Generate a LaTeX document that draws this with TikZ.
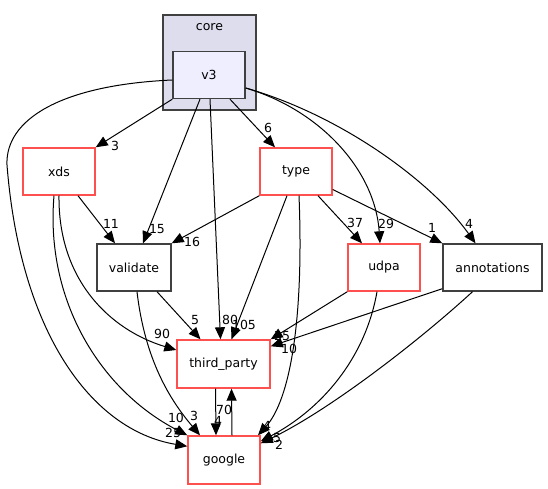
\documentclass[tikz,border=0pt]{standalone}
\usepackage{fontspec}
\setmainfont{DejaVu Sans}
\usetikzlibrary{arrows.meta}

\definecolor{dirred}{HTML}{FF5050}
\definecolor{dirgray}{HTML}{404040}
\definecolor{clusterfill}{HTML}{DDDDEE}
\definecolor{selfill}{HTML}{EEEEFF}

\tikzset{
    dir/.style={rectangle, draw=dirred, line width=1.4pt, fill=white,
        minimum width=72pt, minimum height=47pt, inner sep=0pt,
        font=\fontsize{12.5}{14}\selectfont},
    plain/.style={dir, draw=dirgray},
    dep/.style={draw, line width=1pt, -{Triangle[length=12pt,width=10pt]}},
    lbl/.style={inner sep=0pt, font=\fontsize{12.5}{14}\selectfont}
}

\begin{document}
\begin{tikzpicture}[x=1pt, y=-1pt]
    \useasboundingbox (0,0) rectangle (548,489);

    % cluster
    \draw[dirgray, line width=1.4pt, fill=clusterfill] (163,15) rectangle (256,110);
    \node[lbl] (core) at (209.5,27) {core};

    \node[plain, fill=selfill] (v3) at (209,75) {v3};
    \node[dir] (xds) at (59,171.5) {xds};
    \node[dir] (type) at (296,171.5) {type};
    \node[plain, minimum width=74pt] (validate) at (134,267.5) {validate};
    \node[dir] (udpa) at (384,267.5) {udpa};
    \node[plain, minimum width=99pt] (annotations) at (492.5,267.5) {annotations};
    \node[dir, minimum width=93pt, minimum height=48pt] (third_party) at (223.5,364) {third\_party};
    \node[dir, minimum height=48pt] (google) at (224,460) {google};

    % v3
    \draw[dep] (v3.south west) -- (xds.north east);
    \draw[dep] ([xshift=-9]v3.south) -- ([xshift=9]validate.north);
    \draw[dep] ([xshift=1]v3.south) -- ([xshift=-3]third_party.north);
    \draw[dep] ([xshift=21]v3.south) -- ([xshift=-21]type.north);
    \draw[dep] ([yshift=-13]v3.east) .. controls (320,110) and (375,170) .. ([xshift=-4]udpa.north);
    \draw[dep] ([yshift=-13]v3.east) .. controls (340,115) and (430,180) .. ([xshift=-17]annotations.north);
    \draw[dep] ([yshift=-5]v3.west) .. controls (60,85) and (5,120) .. (7,165)
        .. controls (20,330) and (90,430) .. ([yshift=-11]google.north west);

    % type
    \draw[dep] (type.south west) -- (validate.north east);
    \draw[dep] ([xshift=-9]type.south) -- ([xshift=8]third_party.north);
    \draw[dep] ([xshift=3]type.south) .. controls (304,320) and (290,400) .. ([xshift=34]google.north);
    \draw[dep] ([xshift=22]type.south) -- ([xshift=-22]udpa.north);
    \draw[dep] ([yshift=-18]type.east) -- (annotations.north west);

    % xds
    \draw[dep] ([xshift=19]xds.south) -- ([xshift=-19]validate.north);
    \draw[dep] (xds.south) .. controls (58,280) and (110,330) .. ([yshift=14]third_party.west);
    \draw[dep] ([xshift=-5]xds.south) .. controls (45,300) and (100,390) .. (google.north west);

    % validate
    \draw[dep] ([xshift=23]validate.south) -- ([xshift=-23]third_party.north);
    \draw[dep] ([xshift=3]validate.south) .. controls (145,360) and (170,400) .. ([xshift=-24]google.north);

    % udpa, annotations
    \draw[dep] (udpa.south west) -- (third_party.north east);
    \draw[dep] ([xshift=-7]udpa.south) .. controls (365,360) and (320,410) .. ([yshift=-6]google.north east);
    \draw[dep] ([yshift=3]annotations.south west) -- ([yshift=-7]third_party.north east);
    \draw[dep] ([xshift=-20]annotations.south) .. controls (420,340) and (330,410) .. ([yshift=-8]google.north east);

    % third_party <-> google
    \draw[dep] ([xshift=-8]third_party.south) -- ([xshift=-8]google.north);
    \draw[dep] ([xshift=8]google.north) -- ([xshift=8]third_party.south);

    % edge counts
    \foreach \t/\x/\y [count=\i] in {3/115/146, 15/157/229, 80/230/320, 6/268/128,
        29/386/224, 4/469/224, 25/173/433, 16/192/242, 105/244/325, 4/267/426,
        37/355/223, 1/432/228, 11/111/224, 90/162/334, 10/176/418, 5/195/320,
        3/194/416, 25/282/336, 5/277/438, 10/289/349, 2/279/445, 4/218/421, 70/224/410}
        \node[lbl] (n\i) at (\x,\y) {\t};
\end{tikzpicture}
\end{document}
